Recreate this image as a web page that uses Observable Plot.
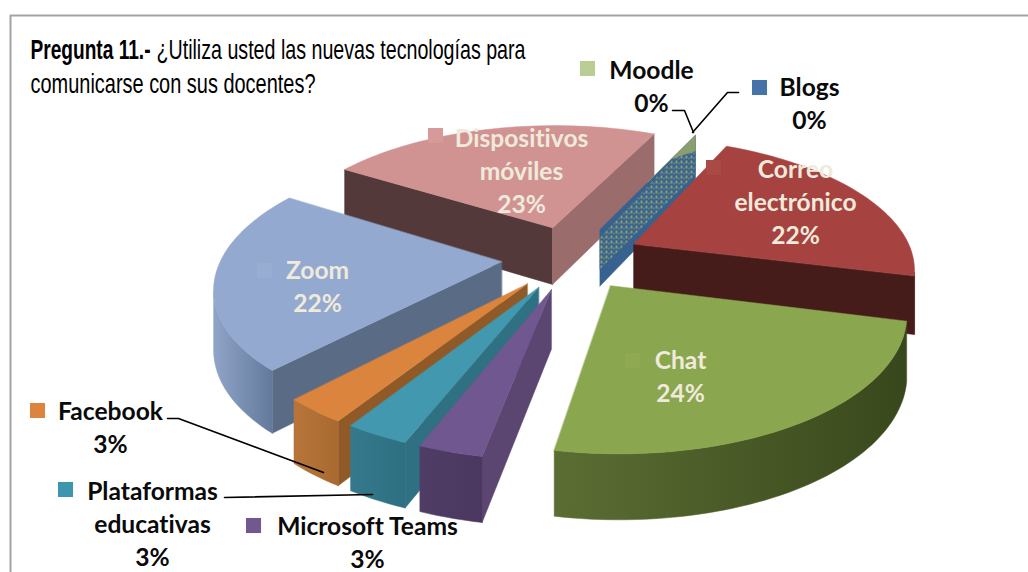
<!DOCTYPE html>
<html><head><meta charset="utf-8">
<script src="https://cdn.jsdelivr.net/npm/d3@7"></script>
<script src="https://cdn.jsdelivr.net/npm/@observablehq/plot@0.6"></script>
<style>html,body{margin:0;background:#fff}svg{display:block}svg text{font-variant-ligatures:none}</style>
</head><body><div id="chart"></div>
<script>
// --- data, clockwise from the pie's first slice
const categories = ["Correo electrónico","Chat","Microsoft Teams","Plataformas educativas","Facebook","Zoom","Dispositivos móviles","Moodle","Blogs"];
const percents   = [22,24,3,3,3,22,23,0,0];
const labelTexts = ["Correo\nelectrónico\n22%","Chat\n24%","Microsoft Teams\n3%","Plataformas\neducativas\n3%","Facebook\n3%","Zoom\n22%","Dispositivos\nmóviles\n23%","Moodle\n0%","Blogs\n0%"];

// --- styles
const topColors  = ["#a64240","#8aa64e","#71578f","#4198af","#db843d","#93a9cf","#d19392","#b9cd94","#4572a7"];
const keyColors  = ["#aa4a47","#8ea952","#71588f","#3d96ae","#db843d","#98add1","#d59a99","#b9cd94","#4572a7"];
const startWalls = ["#000","#000","#5a4670","#2f7082","#905a28","#5a6b85","#53393a","#000","#000"];
const endWalls   = ["#451c19","#000","#000","#000","#000","#000","#9a6c6c","#000","#000"];
const arcRight   = ["#451c19","#38481c","#4a3860","#2e7082","#a86a30","#647a9c","#000","#000","#000"];
const arcLeft    = ["#451c19","#5c6d33","#4f3d66","#35798c","#b8753a","#8fa4c6","#000","#000","#000"];

// --- pie geometry
const G = {cx:571, cy:257, R:280, tilt:0.46, k:0.17, kDepth:0.1, explode:0.25, depth:58, rot:-65};
const deg = Math.PI/180;
function proj(X, Y, down=0){
  const w = 1 - G.k*Y;
  return {x:G.cx + G.R*X/w, y:G.cy + G.R*G.tilt*Y/w + G.depth*down/(1-G.kDepth*Y)};
}
let cum = 0;
const slices = categories.map((name,i)=>{
  const a0 = G.rot + cum*3.6; cum += percents[i]; const a1 = G.rot + cum*3.6;
  const mid = (a0+a1)/2;
  const ex = G.explode*Math.cos(mid*deg), ey = G.explode*Math.sin(mid*deg);
  return {i,name,a0,a1,mid,ex,ey};
});
// zero slices lie on the seam between the last and the first slice
slices[7].a0 = slices[7].a1 = slices[7].mid = slices[8].a0 = slices[8].a1 = slices[8].mid = G.rot + 360;
slices[7].ex = slices[8].ex = G.explode*Math.cos(G.rot*deg);
slices[7].ey = slices[8].ey = G.explode*Math.sin(G.rot*deg);

const rows = []; let pid = 0;
const poly = (pts,color)=>{const id=pid++; for(const p of pts) rows.push({x:p.x,y:p.y,id,color});};
const order = slices.slice().sort((a,b)=>a.ey-b.ey);
for(const s of order){
  const P = (th,r=1,d=0)=>proj(s.ex+r*Math.cos(th*deg), s.ey+r*Math.sin(th*deg), d);
  const apex = proj(s.ex,s.ey), apexB = proj(s.ex,s.ey,1);
  if(percents[s.i]===0){
    if(s.i===7){ // the two flat slices overlap: mottled wall
      const o=P(s.a0), oB=P(s.a0,1,1);
      const mix=(p,q,t)=>({x:p.x+(q.x-p.x)*t,y:p.y+(q.y-p.y)*t});
      poly([apex,o,oB,apexB],"#37618f");
      poly([mix(apex,apexB,.15),o,mix(o,oB,.75),mix(apex,apexB,.7)],"url(#dither)");
      poly([mix(apex,o,.5),o,mix(o,oB,.3),mix(apex,o,.75)],"#8a9e6f");
    }
    continue;
  }
  const steps = Math.max(4,Math.round((s.a1-s.a0)/1.5));
  const arc = d3.range(steps+1).map(j=>s.a0+(s.a1-s.a0)*j/steps);
  // only walls whose top edge runs leftwards on the page face the viewer
  const ps = P(s.a0), pe = P(s.a1), psB = P(s.a0,1,1), peB = P(s.a1,1,1);
  if(ps.x<apex.x) poly([apex,ps,psB,apexB],startWalls[s.i]);
  if(pe.x>apex.x) poly([pe,apex,apexB,peB],endWalls[s.i]);
  const front = arc.filter((t,j)=>{
    const a=P(t), n=P(t+0.01), p=P(t-0.01);
    return n.x<a.x || p.x>a.x;
  });
  if(front.length>1) poly([...front.map(t=>P(t)),...front.slice().reverse().map(t=>P(t,1,1))],`url(#arc${s.i})`);
  poly([apex,...arc.map(t=>P(t))],topColors[s.i]);
}

// --- annotation layout (page pixels)
const labelPos = [[795,200],[680,374],[367,540],[152,522],[110,425],[317,284],[521,169],[651,84],[809,101]];
const keyPos   = [[713,167],[632,360],[253,525],[65,489],[37,410],[264,270],[435,135],[587,68],[759,87]];
const inside = new Set([0,1,5,6]);
const labels = labelTexts.map((text,i)=>({text,x:labelPos[i][0],y:labelPos[i][1],fill:inside.has(i)?"#efeadb":"#0a0a0a"}));
const keys = keyColors.map((c,i)=>({x:keyPos[i][0],y:keyPos[i][1],c}));
const leaders = [
  {id:"m",x:672,y:110},{id:"m",x:684,y:110},{id:"m",x:693,y:132},
  {id:"b",x:738,y:92},{id:"b",x:727,y:92},{id:"b",x:692,y:132},
  {id:"f",x:167,y:418},{id:"f",x:178,y:418},{id:"f",x:323,y:472},
  {id:"p",x:224,y:497},{id:"p",x:372,y:494}
];
const titleBold = [{t:"Pregunta 11.-",x:30,y:50}];
const titlePlain = [{t:"¿Utiliza usted las nuevas tecnologías para",x:156,y:50,w:369},{t:"comunicarse con sus docentes?",x:30,y:84,w:285}];

const chart = Plot.plot({
  width:1028,height:572,margin:0,
  x:{domain:[0,1028],range:[0,1028],axis:null},
  y:{domain:[0,572],range:[0,572],axis:null},
  color:{type:"identity"},
  style:{fontFamily:"Lato, sans-serif",background:"#fff"},
  marks:[
    Plot.ruleY([15],{x1:10,x2:1028,stroke:"#a3a3a3",strokeWidth:2}),
    Plot.ruleX([10],{y1:15,y2:572,stroke:"#a3a3a3",strokeWidth:2}),
    Plot.line(rows,{x:"x",y:"y",z:"id",fill:"color",stroke:"color",strokeWidth:0.5,curve:"linear-closed"}),
    Plot.line(leaders,{x:"x",y:"y",z:"id",stroke:"#000",strokeWidth:1.6}),
    Plot.dot(keys,{x:"x",y:"y",r:8.5,symbol:"square",fill:"c",stroke:null}),
    Plot.text(labels,{x:"x",y:"y",text:"text",fill:"fill",fontSize:24.6,fontWeight:700,lineHeight:1.34,textAnchor:"middle",lineAnchor:"middle"}),
    Plot.text(titleBold,{x:"x",y:"y",text:"t",fill:"#000",fontSize:22,fontWeight:700,textAnchor:"start",lineAnchor:"middle",fontFamily:"Liberation Sans",className:"tb"}),
    Plot.text(titlePlain,{x:"x",y:"y",text:"t",fill:"#000",fontSize:21,textAnchor:"start",lineAnchor:"middle",fontFamily:"Liberation Sans",className:"tp"})
  ]
});
// wall gradients, mottled fill and the tall narrow title face
const ns="http://www.w3.org/2000/svg";
const defs=document.createElementNS(ns,"defs");
defs.innerHTML='<pattern id="dither" width="5" height="5" patternUnits="userSpaceOnUse"><rect width="5" height="5" fill="#37618f"/><rect width="2" height="3" fill="#8a9e6f"/><rect x="3" y="2" width="1" height="2" fill="#7f9a78"/></pattern>'
 + arcLeft.map((c,i)=>`<linearGradient id="arc${i}" x1="0" x2="1" y1="0" y2="0"><stop offset="0" stop-color="${c}"/><stop offset="1" stop-color="${arcRight[i]}"/></linearGradient>`).join("");
chart.insertBefore(defs,chart.firstChild);
const narrow=(sel,ws,sy)=>chart.querySelectorAll(sel+" text").forEach((n,i)=>{
  n.setAttribute("textLength",ws[i]);n.setAttribute("lengthAdjust","spacingAndGlyphs");
  n.setAttribute("transform",(n.getAttribute("transform")||"")+` scale(1,${sy})`);
});
narrow(".tb",[120],1.27); narrow(".tp",titlePlain.map(d=>d.w),1.33);
document.getElementById("chart").append(chart);
</script></body></html>
